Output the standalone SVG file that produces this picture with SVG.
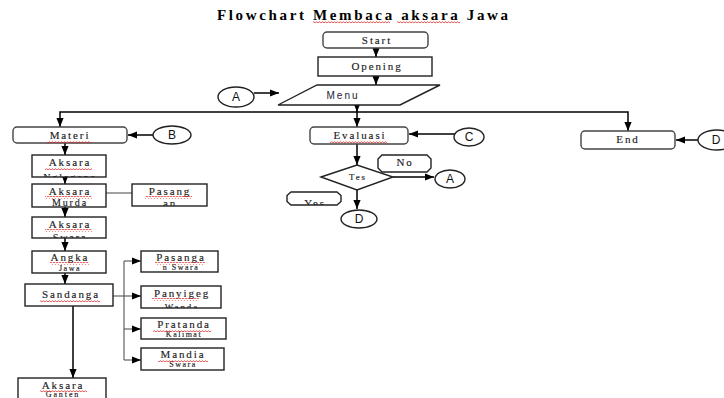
<svg xmlns="http://www.w3.org/2000/svg" width="724" height="398" viewBox="0 0 724 398">
<defs>
<style>
.box{fill:#fff;stroke:#222;stroke-width:1.4}
.rbox{fill:#fff;stroke:#444;stroke-width:1.4}
.line{fill:none;stroke:#000;stroke-width:1.5}
.thin{fill:none;stroke:#555;stroke-width:1.1}
.t{font-family:"Liberation Serif","Times New Roman",serif;font-size:11px;letter-spacing:1.9px;fill:#222;stroke:#222;stroke-width:0.15;text-anchor:middle}
.s{font-family:"Liberation Sans",Arial,sans-serif;font-size:10px;letter-spacing:2px;fill:#223;text-anchor:middle}
.c{font-family:"Liberation Sans",Arial,sans-serif;font-size:12px;fill:#111;text-anchor:middle}
.title{font-family:"Liberation Serif","Times New Roman",serif;font-size:15px;font-weight:bold;fill:#000}
.wv{fill:url(#wavy)}
</style>
<marker id="arr" markerUnits="userSpaceOnUse" markerWidth="9" markerHeight="9" viewBox="0 0 10 10" refX="10" refY="5" orient="auto">
<path d="M0,1 L10,5 L0,9 z" fill="#000"/>
</marker>
<pattern id="wavy" patternUnits="userSpaceOnUse" width="3" height="3">
<path d="M0,2.2 L1.5,0.6 L3,2.2" fill="none" stroke="#e02020" stroke-width="0.8"/>
</pattern>
<clipPath id="cNg"><rect x="32" y="155" width="74" height="22"/></clipPath>
<clipPath id="cMu"><rect x="32" y="184" width="74" height="23"/></clipPath>
<clipPath id="cPa"><rect x="132" y="184" width="75" height="22"/></clipPath>
<clipPath id="cSw"><rect x="32" y="217" width="74" height="21"/></clipPath>
<clipPath id="cWa"><rect x="141" y="286" width="80" height="22"/></clipPath>
<clipPath id="cYes"><rect x="287" y="192" width="54" height="13"/></clipPath>
</defs>
<rect width="724" height="398" fill="#fff"/>

<text class="title" x="217" y="20" textLength="291" lengthAdjust="spacing">Flowchart Membaca aksara Jawa</text>
<rect class="wv" x="313" y="21" width="77" height="3"/>
<rect class="wv" x="397" y="21" width="63" height="3"/>

<g id="connectors">
<line class="line" x1="376" y1="48" x2="376" y2="57" marker-end="url(#arr)"/>
<line class="line" x1="376" y1="76" x2="376" y2="85" marker-end="url(#arr)"/>
<line class="line" x1="357" y1="105" x2="357" y2="112" marker-end="url(#arr)"/>
<path class="line" d="M357,112 H60 V127" marker-end="url(#arr)"/>
<path class="line" d="M357,112 H628 V131" marker-end="url(#arr)"/>
<line class="line" x1="357" y1="112" x2="357" y2="127" marker-end="url(#arr)"/>
<line class="line" x1="254" y1="93" x2="279" y2="93" marker-end="url(#arr)"/>
<line class="line" x1="153" y1="135" x2="128" y2="135" marker-end="url(#arr)"/>
<line class="line" x1="65" y1="143" x2="65" y2="155" marker-end="url(#arr)"/>
<line class="line" x1="65" y1="177" x2="65" y2="184" marker-end="url(#arr)"/>
<line class="line" x1="65" y1="207" x2="65" y2="217" marker-end="url(#arr)"/>
<line class="line" x1="65" y1="238" x2="65" y2="251" marker-end="url(#arr)"/>
<line class="line" x1="65" y1="273" x2="65" y2="284" marker-end="url(#arr)"/>
<line class="thin" x1="106" y1="193" x2="132" y2="193"/>
<line class="thin" x1="113" y1="296" x2="124" y2="296"/>
<line class="thin" x1="124" y1="261" x2="124" y2="360"/>
<line class="thin" x1="124" y1="261" x2="141" y2="261" marker-end="url(#arr)"/>
<line class="thin" x1="124" y1="296" x2="141" y2="296" marker-end="url(#arr)"/>
<line class="thin" x1="124" y1="329" x2="141" y2="329" marker-end="url(#arr)"/>
<line class="thin" x1="124" y1="360" x2="141" y2="360" marker-end="url(#arr)"/>
<line class="line" x1="73" y1="306" x2="73" y2="378" marker-end="url(#arr)"/>
<line class="line" x1="455" y1="134" x2="409" y2="134" marker-end="url(#arr)"/>
<line class="line" x1="357" y1="144" x2="357" y2="165" marker-end="url(#arr)"/>
<line class="line" x1="393" y1="177" x2="434" y2="177" marker-end="url(#arr)"/>
<line class="line" x1="357" y1="190" x2="357" y2="209" marker-end="url(#arr)"/>
<line class="line" x1="698" y1="140" x2="676" y2="140" marker-end="url(#arr)"/>
</g>

<g id="start"><rect class="rbox" x="323" y="32" width="105" height="16" rx="4"/><text class="t" x="377" y="44">Start</text></g>
<g id="opening"><rect class="box" x="318" y="57" width="114" height="19"/><text class="t" x="377" y="70">Opening</text></g>
<g id="menu"><polygon class="box" points="317,85 440,85 400,105 278,105"/><text class="s" x="343" y="99">Menu</text></g>
<g id="connA1"><ellipse class="box" cx="236" cy="97" rx="18" ry="10"/><text class="c" x="236" y="101">A</text></g>

<g id="materi"><rect class="rbox" x="13" y="127" width="114" height="16" rx="4"/><text class="t" x="70" y="139">Materi</text><rect class="wv" x="47" y="140" width="44" height="3"/></g>
<g id="connB"><ellipse class="box" cx="172" cy="135" rx="19" ry="9"/><text class="c" x="172" y="139">B</text></g>

<g id="nglegena"><rect class="box" x="32" y="155" width="74" height="22"/><g clip-path="url(#cNg)"><text class="t" x="70" y="166">Aksara</text><text class="t" x="70" y="181" style="font-size:10px">Nglegena</text></g><rect class="wv" x="45" y="167" width="47" height="3"/></g>
<g id="murda"><rect class="box" x="32" y="184" width="74" height="23"/><g clip-path="url(#cMu)"><text class="t" x="70" y="195">Aksara</text><text class="t" x="70" y="206" style="font-size:10px">Murda</text></g><rect class="wv" x="45" y="196" width="47" height="3"/></g>
<g id="pasangan"><rect class="box" x="132" y="184" width="75" height="22"/><g clip-path="url(#cPa)"><text class="t" x="170" y="195">Pasang</text><text class="t" x="170" y="207">an</text></g><rect class="wv" x="145" y="196" width="47" height="3"/></g>
<g id="swara"><rect class="box" x="32" y="217" width="74" height="21"/><g clip-path="url(#cSw)"><text class="t" x="70" y="228">Aksara</text><text class="t" x="70" y="241" style="font-size:10px">Swara</text></g><rect class="wv" x="45" y="229" width="47" height="3"/></g>
<g id="angka"><rect class="box" x="32" y="251" width="74" height="22"/><text class="t" x="70" y="261">Angka</text><text class="t" x="70" y="271" style="font-size:8px;letter-spacing:1.5px">Jawa</text><rect class="wv" x="50" y="262" width="39" height="3"/></g>
<g id="sandangan"><rect class="box" x="25" y="284" width="88" height="22"/><text class="t" x="71" y="298">Sandanga</text><rect class="wv" x="40" y="299" width="60" height="3"/></g>

<g id="pasanganSwara"><rect class="box" x="141" y="251" width="77" height="21"/><text class="t" x="181" y="261">Pasanga</text><text class="t" x="181" y="270" style="font-size:8px;letter-spacing:1.5px">n Swara</text><rect class="wv" x="155" y="262" width="50" height="3"/></g>
<g id="panyigegWanda"><rect class="box" x="141" y="286" width="80" height="22"/><g clip-path="url(#cWa)"><text class="t" x="182" y="297">Panyigeg</text><text class="t" x="182" y="310" style="font-size:9px">Wanda</text></g><rect class="wv" x="152" y="298" width="47" height="3"/></g>
<g id="pratanda"><rect class="box" x="141" y="318" width="85" height="21"/><text class="t" x="184" y="328">Pratanda</text><text class="t" x="184" y="337" style="font-size:8px;letter-spacing:1.5px">Kalimat</text><rect class="wv" x="153" y="329" width="58" height="3"/></g>
<g id="mandia"><rect class="box" x="141" y="348" width="83" height="22"/><text class="t" x="183" y="358">Mandia</text><text class="t" x="183" y="367" style="font-size:8px;letter-spacing:1.5px">Swara</text><rect class="wv" x="158" y="359" width="50" height="3"/></g>
<g id="ganten"><rect class="box" x="18" y="378" width="88" height="30"/><text class="t" x="63" y="389">Aksara</text><text class="t" x="63" y="397" style="font-size:8px">Ganten</text><rect class="wv" x="40" y="390" width="47" height="3"/></g>

<g id="evaluasi"><rect class="rbox" x="310" y="127" width="98" height="17" rx="4"/><text class="t" x="360" y="139">Evaluasi</text><rect class="wv" x="330" y="140" width="57" height="3"/></g>
<g id="connC"><ellipse class="box" cx="469" cy="137" rx="15" ry="9"/><text class="c" x="469" y="141">C</text></g>
<g id="tes"><polygon class="box" points="321,177 357,165 393,177 357,190"/><text class="t" x="358" y="180" style="font-size:9px">Tes</text></g>
<g id="no"><polygon class="box" points="382,155 427,155 431,159 431,168 427,172 382,172 378,168 378,159"/><text class="t" x="405" y="166">No</text></g>
<g id="connA2"><ellipse class="box" cx="450" cy="179" rx="15" ry="9"/><text class="c" x="450" y="183">A</text></g>
<g id="yes"><polygon class="box" points="291,192 337,192 341,195.5 341,201.5 337,205 291,205 287,201.5 287,195.5"/><g clip-path="url(#cYes)"><text class="t" x="315" y="207">Yes</text></g></g>
<g id="connD1"><ellipse class="box" cx="359" cy="219" rx="18" ry="9"/><text class="c" x="359" y="223">D</text></g>

<g id="end"><rect class="rbox" x="581" y="131" width="94" height="18" rx="4"/><text class="t" x="628" y="143">End</text></g>
<g id="connD2"><ellipse class="box" cx="717" cy="140" rx="19" ry="10"/><text class="c" x="716" y="144">D</text></g>
</svg>
